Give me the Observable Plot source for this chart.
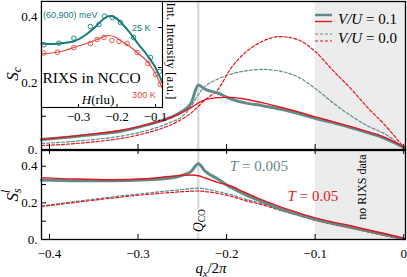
<!DOCTYPE html>
<html><head><meta charset="utf-8">
<script src="https://cdn.jsdelivr.net/npm/d3@7"></script>
<script src="https://cdn.jsdelivr.net/npm/@observablehq/plot@0.6"></script>
<style>
body{margin:0;background:#fff;}
#wrap{position:relative;width:407px;height:277px;overflow:hidden;background:#fff;}
#wrap svg text{font-family:"Liberation Serif","Times New Roman",serif;}
</style></head><body><div id="wrap"></div>
<script>
// ---------- data ----------
const qCO = -0.232;
const xTicks = [-0.4, -0.3, -0.2, -0.1, 0];
const yTickLabels = [0, 0.2, 0.4];
const yMinorTicks = [0.1, 0.2, 0.3, 0.4];
const noDataBand = [{x1: -0.1, x2: 0.002}];

// top panel: S_c
const qTop = [-0.409,-0.38,-0.35,-0.32,-0.29,-0.265,-0.25,-0.24,-0.232,-0.224,-0.21,-0.195,-0.18,-0.16,-0.14,-0.12,-0.10,-0.08,-0.06,-0.04,-0.02,0];
const scV01T005 = [0.030,0.037,0.045,0.055,0.074,0.095,0.115,0.140,0.194,0.181,0.170,0.152,0.141,0.132,0.122,0.109,0.094,0.081,0.066,0.050,0.032,0.006];
const scV01T05  = [0.030,0.038,0.047,0.057,0.075,0.094,0.112,0.126,0.140,0.150,0.156,0.157,0.152,0.141,0.128,0.114,0.098,0.084,0.069,0.053,0.035,0.008];
const scV00T005 = [0.018,0.023,0.030,0.040,0.057,0.080,0.100,0.130,0.165,0.190,0.212,0.227,0.236,0.241,0.236,0.219,0.184,0.141,0.102,0.070,0.045,0.004];
const scV00T05  = [0.012,0.016,0.023,0.033,0.050,0.072,0.092,0.110,0.130,0.150,0.180,0.245,0.289,0.325,0.340,0.331,0.295,0.238,0.184,0.124,0.070,0.006];

// bottom panel: S^l_s
const qBot = [-0.409,-0.37,-0.33,-0.29,-0.265,-0.25,-0.24,-0.232,-0.224,-0.21,-0.195,-0.18,-0.16,-0.14,-0.12,-0.10,-0.08,-0.06,-0.04,-0.02,0];
const ssV01T005 = [0.325,0.321,0.321,0.326,0.334,0.350,0.372,0.413,0.372,0.330,0.284,0.248,0.207,0.168,0.138,0.111,0.088,0.068,0.046,0.026,0.004];
const ssV01T05  = [0.338,0.330,0.326,0.332,0.344,0.350,0.352,0.348,0.336,0.312,0.292,0.258,0.216,0.180,0.148,0.118,0.095,0.075,0.052,0.030,0.006];
const ssV00T005 = [0.183,0.208,0.232,0.253,0.266,0.273,0.278,0.281,0.276,0.262,0.245,0.222,0.196,0.165,0.138,0.108,0.085,0.064,0.042,0.021,0.003];
const ssV00T05  = [0.180,0.203,0.226,0.246,0.256,0.261,0.264,0.265,0.262,0.252,0.236,0.214,0.190,0.160,0.133,0.105,0.082,0.062,0.041,0.020,0.003];

// inset: RIXS in NCCO
const insetTicks = [-0.3, -0.2, -0.1];
const insetYTicks = [0.4, 0.8];
const hGrid = [-0.396,-0.37,-0.34,-0.31,-0.28,-0.255,-0.235,-0.22,-0.205,-0.185,-0.165,-0.145,-0.125,-0.105,-0.082];
const fit25K  = [0.64,0.635,0.645,0.665,0.73,0.81,0.885,0.915,0.90,0.83,0.74,0.635,0.54,0.43,0.25];
const fit300K = [0.537,0.545,0.565,0.603,0.64,0.675,0.708,0.72,0.705,0.655,0.605,0.54,0.475,0.37,0.19];
const h25K = [-0.390,-0.351,-0.312,-0.269,-0.247,-0.232,-0.212,-0.191,-0.157,-0.113,-0.090];
const d25K = [0.627,0.643,0.693,0.81,0.83,0.913,0.900,0.85,0.70,0.50,0.36];
const h300K = [-0.390,-0.355,-0.312,-0.269,-0.252,-0.234,-0.213,-0.195,-0.174,-0.148,-0.120,-0.100,-0.088];
const d300K = [0.545,0.553,0.60,0.64,0.68,0.70,0.67,0.66,0.64,0.55,0.44,0.33,0.23];

// ---------- styling ----------
const teal = "#5f8b8b", red = "#e8141c";
const iTeal = "#167c77", iRed = "#e2483d";
const serif = "'Liberation Serif', 'Times New Roman', serif";
const sans = "'Liberation Sans', Arial, sans-serif";
const W = 407;
const xDomain = [-0.409, 0.002];
const rows = (xs, ys) => xs.map((x, i) => ({x, y: ys[i]}));
const fmtX = d => d === 0 ? "0" : (d < 0 ? "\u2212" : "") + Math.abs(d).toFixed(1);
const fmtY = d => d === 0 ? "0." : d.toFixed(1);
const baseStyle = top => ({position: "absolute", left: "0px", top: top, overflow: "visible",
  background: "transparent", fontFamily: serif, fontSize: "13px", color: "black"});
const fixFont = svg => {
  d3.select(svg).attr("font-family", serif).style("font-family", serif);
  d3.select(svg).selectAll("g, text").attr("font-family", serif);
  return svg;
};

function panelLines(qs, s1, s2, s3, s4) {
  return [
    Plot.line(rows(qs, s3), {x: "x", y: "y", stroke: teal, strokeWidth: 1.2, strokeDasharray: "3,2", curve: "monotone-x"}),
    Plot.line(rows(qs, s4), {x: "x", y: "y", stroke: red, strokeWidth: 1.2, strokeDasharray: "3,2", curve: "monotone-x"}),
    Plot.line(rows(qs, s1), {x: "x", y: "y", stroke: teal, strokeWidth: 3, curve: "monotone-x"}),
    Plot.line(rows(qs, s2), {x: "x", y: "y", stroke: red, strokeWidth: 1.4, curve: "monotone-x"})
  ];
}

const wrap = document.getElementById("wrap");

// ---------- top panel ----------
const topPlot = fixFont(Plot.plot({
  width: W, height: 150, marginLeft: 41, marginRight: 2, marginTop: 1, marginBottom: 1,
  style: baseStyle("0px"),
  x: {domain: xDomain, axis: null},
  y: {domain: [0, 0.4455]},
  marks: [
    Plot.rect(noDataBand, {x1: "x1", x2: "x2", fill: "#ececec"}),
    Plot.ruleX([qCO], {x: d => d, stroke: "#dcdcdc", strokeWidth: 2.5}),
    ...panelLines(qTop, scV01T005, scV01T05, scV00T005, scV00T05),
    Plot.frame({stroke: "black", strokeWidth: 1.3}),
    Plot.tickX(xTicks, {x: d => d, insetTop: 143, stroke: "black"}),
    Plot.tickY(yMinorTicks, {y: d => d, insetRight: 359, stroke: "black"}),
    Plot.axisY(yTickLabels, {tickSize: 0, tickPadding: 4, tickFormat: fmtY, label: null, fontSize: 13, fontFamily: serif})
  ]
}));
wrap.appendChild(topPlot);

// ---------- inset ----------
const insetPlot = fixFont(Plot.plot({
  width: W, height: 130, marginLeft: 41, marginRight: 245, marginTop: 1, marginBottom: 23,
  style: baseStyle("0px"),
  x: {domain: [-0.396, -0.082]},
  y: {domain: [0, 1.06], axis: null},
  marks: [
    Plot.frame({fill: "white", stroke: "none"}),
    Plot.line(rows(hGrid, fit300K), {x: "x", y: "y", stroke: iRed, strokeWidth: 1.2, curve: "monotone-x"}),
    Plot.line(rows(hGrid, fit25K), {x: "x", y: "y", stroke: iTeal, strokeWidth: 2, curve: "monotone-x"}),
    Plot.dot(rows(h300K, d300K), {x: "x", y: "y", r: 2.3, stroke: iRed, strokeWidth: 0.9, fill: "none"}),
    Plot.dot(rows(h25K, d25K), {x: "x", y: "y", r: 2.3, stroke: iTeal, strokeWidth: 0.9, fill: "none"}),
    Plot.frame({stroke: "black", strokeWidth: 1.1}),
    Plot.tickY(insetYTicks, {y: d => d, insetLeft: 117, stroke: "black"}),
    Plot.tickX(insetTicks, {x: d => d, insetTop: 103, stroke: "black"}),
    Plot.axisX(insetTicks, {tickSize: 0, tickPadding: 4, tickFormat: fmtX, label: null, fontSize: 13, fontFamily: serif})
  ]
}));
wrap.appendChild(insetPlot);

// ---------- bottom panel ----------
const botPlot = fixFont(Plot.plot({
  width: W, height: 128, marginLeft: 41, marginRight: 2, marginTop: 1, marginBottom: 38,
  style: baseStyle("149px"),
  x: {domain: xDomain},
  y: {domain: [0, 0.486]},
  marks: [
    Plot.rect(noDataBand, {x1: "x1", x2: "x2", fill: "#ececec"}),
    Plot.ruleX([qCO], {x: d => d, stroke: "#dcdcdc", strokeWidth: 2.5}),
    ...panelLines(qBot, ssV01T005, ssV01T05, ssV00T005, ssV00T05),
    Plot.frame({stroke: "black", strokeWidth: 1.3}),
    Plot.tickX(xTicks, {x: d => d, insetTop: 84, stroke: "black"}),
    Plot.tickX(xTicks, {x: d => d, insetBottom: 85, stroke: "black"}),
    Plot.tickY(yMinorTicks, {y: d => d, insetRight: 359, stroke: "black"}),
    Plot.axisX(xTicks, {tickSize: 0, tickPadding: 9, tickFormat: fmtX, label: null, fontSize: 13, fontFamily: serif}),
    Plot.axisY(yTickLabels, {tickSize: 0, tickPadding: 4, tickFormat: fmtY, label: null, fontSize: 13, fontFamily: serif})
  ]
}));
wrap.appendChild(botPlot);

// ---------- rich text annotations ----------
function rich(svg, x, y, parts, o = {}) {
  const size = o.size || 13;
  const t = d3.select(svg).append("text")
    .attr("transform", `translate(${x},${y})` + (o.rotate ? ` rotate(${o.rotate})` : ""))
    .attr("text-anchor", o.anchor || "middle")
    .attr("dominant-baseline", "central")
    .attr("font-family", o.family || serif)
    .style("font-family", o.family || serif)
    .attr("font-size", size)
    .attr("fill", o.fill || "black")
    .style("white-space", "pre");
  if (o.halo) t.attr("stroke", "white").attr("stroke-width", 3).attr("paint-order", "stroke");
  let shift = 0;
  for (const p of parts) {
    const s = t.append("tspan").text(p.t);
    if (p.i) s.attr("font-style", "italic");
    const target = p.sub ? size * 0.3 : p.sup ? -size * 0.38 : 0;
    if (p.sub || p.sup) s.attr("font-size", size * 0.68);
    const dy = target - shift;
    if (dy) s.attr("dy", dy);
    shift = target;
    if (p.dx) s.attr("dx", p.dx);
  }
  return t;
}
const P = (fig, x, y) => [fig.scale("x").apply(x), fig.scale("y").apply(y)];

// top panel texts
rich(topPlot, 12, 74, [{t: "S", i: true}, {t: "c", i: true, sub: true}], {size: 17, rotate: -90});
{
  const [x, y] = P(topPlot, -0.261, 0.295);
  rich(topPlot, x, y, [{t: "Int. Intensity [a.u.]"}], {size: 13, rotate: 90});
}
// legend
{
  const g = d3.select(topPlot).append("g");
  const items = [
    {y: 15, c: teal, w: 2.5, dash: null}, {y: 21.5, c: red, w: 1.4, dash: null},
    {y: 34, c: teal, w: 1.2, dash: "3,2"}, {y: 41, c: red, w: 1.2, dash: "3,2"}
  ];
  for (const it of items) {
    g.append("line").attr("x1", 315).attr("x2", 332).attr("y1", it.y).attr("y2", it.y)
      .attr("stroke", it.c).attr("stroke-width", it.w).attr("stroke-dasharray", it.dash);
  }
  rich(topPlot, 338, 19, [{t: "V/U", i: true}, {t: " = 0.1"}], {size: 15, anchor: "start"});
  rich(topPlot, 338, 38, [{t: "V/U", i: true}, {t: " = 0.0"}], {size: 15, anchor: "start"});
}

// inset texts
{
  let [x, y] = P(insetPlot, -0.391, 0.92);
  rich(insetPlot, x, y, [{t: "(60,900) meV"}], {size: 9, anchor: "start", fill: iTeal, family: sans});
  [x, y] = P(insetPlot, -0.136, 0.79);
  rich(insetPlot, x, y, [{t: "25 K"}], {size: 9, fill: iTeal, family: sans});
  [x, y] = P(insetPlot, -0.129, 0.12);
  rich(insetPlot, x, y, [{t: "300 K"}], {size: 9, fill: iRed, family: sans});
  [x, y] = P(insetPlot, -0.265, 0.30);
  rich(insetPlot, x, y, [{t: "RIXS in NCCO"}], {size: 15.5});
  [x, y] = P(insetPlot, -0.248, 0.08);
  rich(insetPlot, x, y, [{t: "H", i: true}, {t: "(rlu)"}], {size: 13});
}

// bottom panel texts
{
  let [x, y] = P(botPlot, -0.163, 0.40);
  rich(botPlot, x, y, [{t: "T", i: true}, {t: " = 0.005"}], {size: 15, fill: teal});
  [x, y] = P(botPlot, -0.102, 0.236);
  rich(botPlot, x, y, [{t: "T", i: true}, {t: " = 0.05"}], {size: 15, fill: red});
  [x, y] = P(botPlot, -0.047, 0.283);
  rich(botPlot, x, y, [{t: "no RIXS data"}], {size: 12, rotate: -90});
  [x, y] = P(botPlot, qCO, 0.10);
  rich(botPlot, x, y, [{t: "Q", i: true}, {t: "CO", sub: true}], {size: 14, rotate: -90, halo: true});
  rich(botPlot, 12, 46, [{t: "S", i: true}, {t: "l", i: true, sup: true}, {t: "s", i: true, sub: true, dx: -3}], {size: 17, rotate: -90});
  rich(botPlot, 211, 119, [{t: "q", i: true}, {t: "x", i: true, sub: true}, {t: "/2"}, {t: "\u03c0", i: true}], {size: 15});
}
</script></body></html>
